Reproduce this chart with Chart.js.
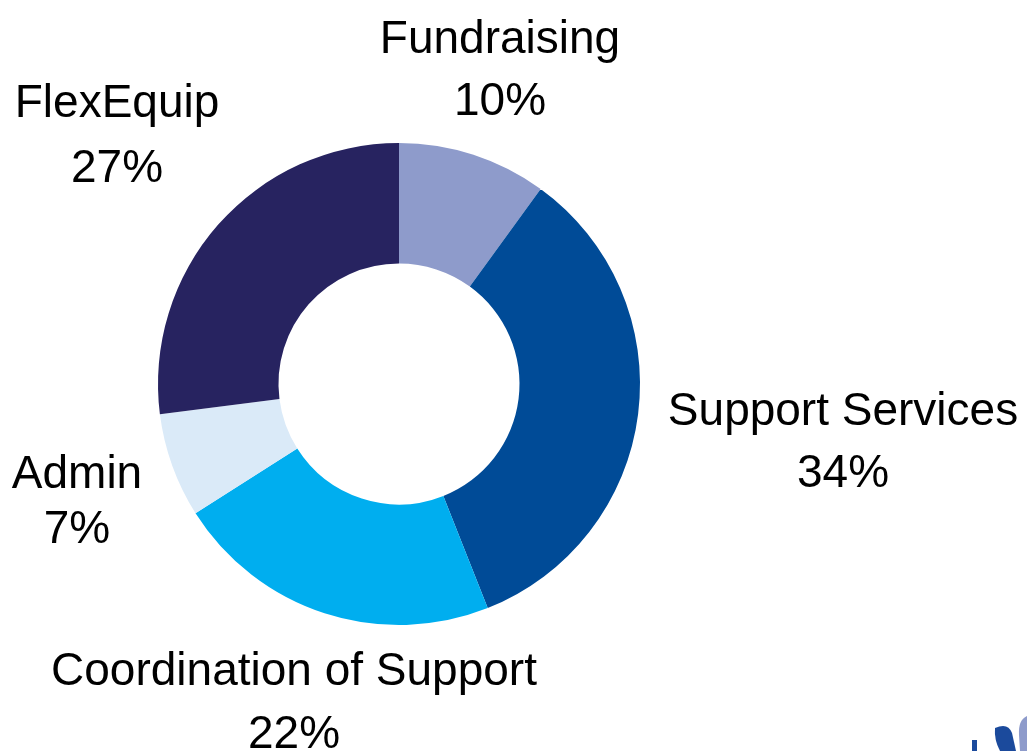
<!DOCTYPE html>
<html>
<head>
<meta charset="utf-8">
<script src="https://cdn.jsdelivr.net/npm/chart.js@4/dist/chart.umd.min.js"></script>
<style>
  html, body { margin: 0; padding: 0; background: #ffffff; }
  #wrap { width: 1027px; height: 751px; position: relative; }
</style>
</head>
<body>
<div id="wrap"><canvas id="budgetChart" width="1027" height="751"></canvas></div>
<script>
// Chart data
const categories = ['Fundraising', 'Support Services', 'Coordination of Support', 'Admin', 'FlexEquip'];
const shares = [10, 34, 22, 7, 27];
const sliceColors = ['#8E9BCB', '#004B97', '#00AEEF', '#DAEAF8', '#272360'];

// Label anchors, offset from the doughnut centre (x, first baseline, gap to second line)
const labelOffsets = [
  [101, -331, 62],
  [444, 41, 62],
  [-105, 301, 63],
  [-322, 104, 55],
  [-282, -267, 65]
];

// Draw category / percent labels beside each slice
const sliceLabels = {
  id: 'sliceLabels',
  afterDraw(chart) {
    const ctx = chart.ctx;
    const arc = chart.getDatasetMeta(0).data[0];
    const cx = arc.x, cy = arc.y;
    ctx.save();
    ctx.fillStyle = '#000000';
    ctx.font = '46px "Liberation Sans", Arial, sans-serif';
    ctx.textAlign = 'center';
    ctx.textBaseline = 'alphabetic';
    categories.forEach((name, i) => {
      const [dx, dy, gap] = labelOffsets[i];
      ctx.fillText(name, cx + dx, cy + dy);
      ctx.fillText(shares[i] + '%', cx + dx, cy + dy + gap);
    });
    ctx.restore();
  }
};

// Corner of the logo that peeks in at bottom right
const logoCorner = {
  id: 'logoCorner',
  afterDraw(chart) {
    const ctx = chart.ctx;
    ctx.save();
    ctx.fillStyle = '#1B4A9C';
    ctx.fillRect(972, 740, 5, 11);
    ctx.beginPath();
    ctx.moveTo(995, 728);
    ctx.quadraticCurveTo(1008, 722, 1012, 733);
    ctx.lineTo(1016, 751);
    ctx.lineTo(1000, 751);
    ctx.quadraticCurveTo(994, 740, 995, 728);
    ctx.fill();
    ctx.fillStyle = '#8E9BCB';
    ctx.beginPath();
    ctx.moveTo(1027, 716);
    ctx.quadraticCurveTo(1018, 720, 1019, 735);
    ctx.lineTo(1020, 751);
    ctx.lineTo(1027, 751);
    ctx.closePath();
    ctx.fill();
    ctx.restore();
  }
};

const ctx = document.getElementById('budgetChart').getContext('2d');
new Chart(ctx, {
  type: 'doughnut',
  data: {
    labels: categories,
    datasets: [{
      data: shares,
      backgroundColor: sliceColors,
      borderWidth: 0
    }]
  },
  options: {
    responsive: false,
    animation: false,
    cutout: '50%',
    layout: {
      padding: { left: 158, right: 387, top: 143, bottom: 126 }
    },
    plugins: {
      legend: { display: false },
      tooltip: { enabled: false }
    }
  },
  plugins: [sliceLabels, logoCorner]
});
</script>
</body>
</html>
